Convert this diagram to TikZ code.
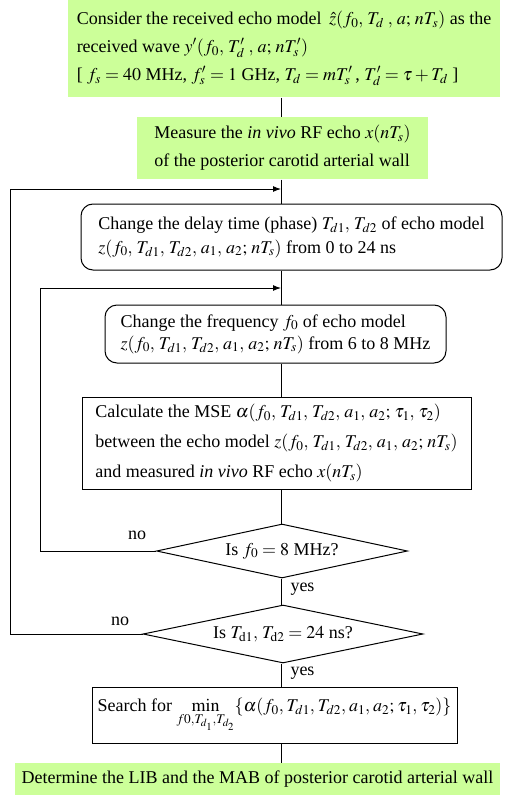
\documentclass[tikz,border=0pt]{standalone}
\usepackage{mathptmx}
\usepackage[no-math]{fontspec}
\setmainfont{Liberation Serif}
\usepackage{tikz}
\usetikzlibrary{
  arrows.meta,
  shapes.geometric
}
\definecolor{stepgreen}{RGB}{204,255,153}
\thinmuskip=4mu
\tikzset{
  >={Latex[length=8pt,width=6pt]},
  line cap=butt,
  line join=miter,
  every picture/.style={line width=1pt},
  txt/.style={font=\fontsize{18}{28}\selectfont},
  greenbox/.style={txt, fill=stepgreen, inner sep=0pt, align=left},
  roundbox/.style={txt, draw, rounded corners=12pt, inner sep=0pt, align=left},
  plainbox/.style={txt, draw, inner sep=0pt, align=left},
  decision/.style={txt, draw, diamond, inner sep=0pt, aspect=4.6},
  looptext/.style={txt, inner sep=1pt}
}

\begin{document}
\begin{tikzpicture}[x=1pt, y=-1pt]
	\useasboundingbox (0,0) rectangle (507,795);

	% the vertical spine and the two loop columns
	\coordinate (spine) at (281,0);
	\coordinate (outerleft) at (10,0);
	\coordinate (innerleft) at (40,0);
	\coordinate (outerjoin) at (281,189);
	\coordinate (innerjoin) at (281,288);

	% Draw the boxes
	\node[greenbox, minimum width=432, minimum height=97] (model) at (284,48.5)
		{Consider the received echo model \,$\hat{z}(f_0,T_d\,,a;nT_s)$ as the\\
		 received wave $y'(f_0,T'_d\,,a;nT'_s)$\\
		 {[} $f_s=40$ MHz, $f'_s=1$ GHz, $T_d=mT'_s$\,, $T'_d=\tau+T_d$ ]};
	\node[greenbox, minimum width=291, minimum height=62] (measure) at (282.5,148)
		{Measure the \emph{in vivo} RF echo $x(nT_s)$\\
		 of the posterior carotid arterial wall};
	\node[roundbox, minimum width=421, minimum height=66,
		font=\fontsize{18}{24}\selectfont] (delay) at (291.5,237)
		{Change the delay time (phase) $T_{d1},T_{d2}$ of echo model\\
		 $z(f_0,T_{d1},T_{d2},a_1,a_2;nT_s)$ from 0 to 24 ns};
	\node[roundbox, minimum width=341, minimum height=58,
		font=\fontsize{18}{22}\selectfont] (freq) at (275.5,334)
		{Change the frequency $f_0$ of echo model\\
		 $z(f_0,T_{d1},T_{d2},a_1,a_2;nT_s)$ from 6 to 8 MHz};
	\node[plainbox, minimum width=389, minimum height=92,
		font=\fontsize{18}{30}\selectfont] (mse) at (276.5,443)
		{Calculate the MSE $\alpha(f_0,T_{d1},T_{d2},a_1,a_2;\tau_1,\tau_2)$\\
		 between the echo model $z(f_0,T_{d1},T_{d2},a_1,a_2;nT_s)$\\
		 and measured \emph{in vivo} RF echo $x(nT_s)$};
	\node[decision, minimum width=251, minimum height=54] (freqend) at (282,551)
		{Is $f_0=8$ MHz?};
	\node[decision, minimum width=280, minimum height=58] (delayend) at (283,634)
		{Is $T_{\mathrm{d1}},T_{\mathrm{d2}}=24$ ns?};
	\node[plainbox, minimum width=365, minimum height=56] (search) at (274.5,715)
		{\thinmuskip=3mu Search for $\min\limits_{f0,T_{d_1},T_{d_2}}\{\alpha(f_0,T_{d1},T_{d2},a_1,a_2;\tau_1,\tau_2)\}$};
	\node[greenbox, minimum width=485, minimum height=32] (result) at (257.5,779)
		{Determine the LIB and the MAB of posterior carotid arterial wall};

	% connect along the spine
	\draw (model.south -| spine) -- (measure.north -| spine);
	\draw (measure.south -| spine) -- (delay.north -| spine);
	\draw (delay.south -| spine) -- (freq.north -| spine);
	\draw (freq.south -| spine) -- (mse.north -| spine);
	\draw (mse.south -| spine) -- (freqend.north -| spine);
	\draw (freqend.south -| spine) -- (delayend.north -| spine);
	\draw (delayend.south -| spine) -- (search.north -| spine);
	\draw (search.south -| spine) -- (result.north -| spine);

	% the two loops back
	\draw[->] (freqend.west) -- (freqend.west -| innerleft) |- (innerjoin);
	\draw[->] (delayend.west) -- (delayend.west -| outerleft) |- (outerjoin);

	% Add labels
	\node[looptext] (no1) at (137,535) {no};
	\node[looptext] (no2) at (120,621) {no};
	\node[looptext, anchor=west] (yes1) at (289,589) {yes};
	\node[looptext, anchor=west] (yes2) at (289,673) {yes};
\end{tikzpicture}
\end{document}
